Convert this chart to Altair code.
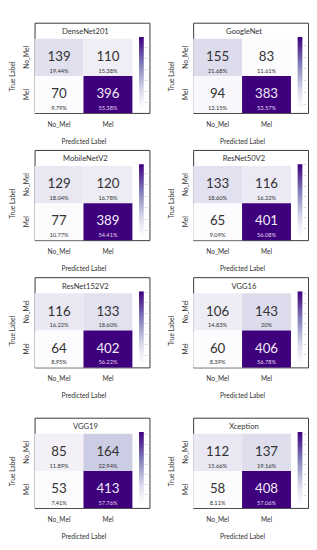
import altair as alt
import pandas as pd

models = ["DenseNet201", "GoogleNet", "MobileNetV2", "ResNet50V2",
          "ResNet152V2", "VGG16", "VGG19", "Xception"]
classes = ["No_Mel", "Mel"]
tn = [139, 155, 129, 133, 116, 106, 85, 112]
fp = [110, 83, 120, 116, 133, 143, 164, 137]
fn = [70, 94, 77, 65, 64, 60, 53, 58]
tp = [396, 383, 389, 401, 402, 406, 413, 408]
tn_pct = ["19.44%", "21.68%", "18.04%", "18.60%", "16.22%", "14.83%", "11.89%", "15.66%"]
fp_pct = ["15.38%", "11.61%", "16.78%", "16.22%", "18.60%", "20%", "22.94%", "19.16%"]
fn_pct = ["9.79%", "13.15%", "10.77%", "9.09%", "8.95%", "8.39%", "7.41%", "8.11%"]
tp_pct = ["55.38%", "53.57%", "54.41%", "56.08%", "56.22%", "56.78%", "57.76%", "57.06%"]

PURPLES = ["#fcfbfd", "#efedf5", "#dadaeb", "#bcbddc", "#9e9ac8",
           "#807dba", "#6a51a3", "#54278f", "#3f007d"]

FONT = "Lato"
BOX_W, BOX_H = 121, 95
HM_W, TITLE_H = 103, 17


def panel(i):
    df = pd.DataFrame({
        "true": ["No_Mel", "No_Mel", "Mel", "Mel"],
        "pred": ["No_Mel", "Mel", "No_Mel", "Mel"],
        "count": [tn[i], fp[i], fn[i], tp[i]],
        "pct": [tn_pct[i], fp_pct[i], fn_pct[i], tp_pct[i]],
    })
    x = alt.X("pred:N", sort=classes,
              scale=alt.Scale(domain=classes, range=[0, HM_W]),
              axis=alt.Axis(title="Predicted Label", labelAngle=0, ticks=False,
                            domain=False, labelPadding=8, titlePadding=11,
                            labelFontSize=7, titleFontSize=7,
                            titleFontWeight="normal", labelFont=FONT,
                            titleFont=FONT, labelColor="#333", titleColor="#333"))
    y = alt.Y("true:N", sort=classes,
              scale=alt.Scale(domain=classes, range=[TITLE_H, BOX_H]),
              axis=alt.Axis(title="True Label", labelAngle=270, ticks=False,
                            domain=False, labelPadding=5, titlePadding=8,
                            labelFontSize=7, titleFontSize=7,
                            titleFontWeight="normal", labelFont=FONT,
                            titleFont=FONT, labelColor="#333", titleColor="#333"))
    base = alt.Chart(df).encode(x=x, y=y)
    rect = base.mark_rect().encode(
        color=alt.Color("count:Q",
                        scale=alt.Scale(range=PURPLES, zero=False, nice=False,
                                        interpolate="rgb"),
                        legend=alt.Legend(orient="none", legendX=110, legendY=15,
                                          direction="vertical", title=None,
                                          gradientLength=75, gradientThickness=5,
                                          gradientStrokeWidth=0, tickCount=8,
                                          labelExpr="'–'", labelFontSize=5,
                                          labelColor="#999", labelOffset=1,
                                          labelOverlap=False))
    )
    cnt = base.mark_text(fontSize=14, font=FONT).encode(
        text="count:Q",
        color=alt.condition("datum.count > 300", alt.value("#f0ecf7"), alt.value("#333333")),
    )
    pct = base.mark_text(fontSize=6, font=FONT, dy=14).encode(
        text="pct:N",
        color=alt.condition("datum.count > 300", alt.value("#e0d8f0"), alt.value("#333333")),
    )
    return alt.layer(rect, cnt, pct).properties(
        width=BOX_W, height=BOX_H,
        title=alt.TitleParams(models[i], offset=-14, fontSize=8, dx=-7,
                              anchor="middle", frame="group",
                              font=FONT, fontWeight="normal", color="#333"),
    )


def row(a, b):
    return alt.hconcat(panel(a), panel(b), spacing=17).resolve_scale(color="independent")


top = alt.vconcat(row(0, 1), row(2, 3), row(4, 5), spacing=4).resolve_scale(color="independent")
chart = alt.vconcat(top, row(6, 7), spacing=18).resolve_scale(color="independent").configure(
    padding=0, view=alt.ViewConfig(stroke="#333", strokeWidth=1)
)

chart.save("out.html", embed_options={"renderer": "svg", "actions": False})
